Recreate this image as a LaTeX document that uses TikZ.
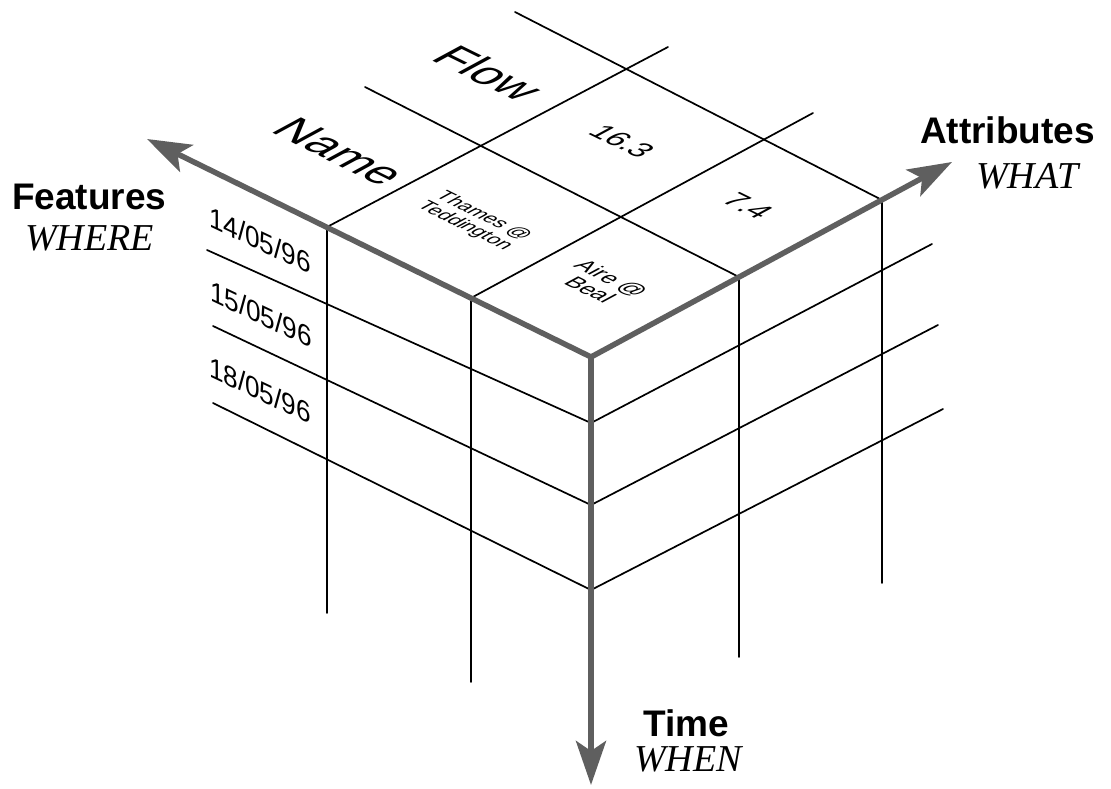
\documentclass[tikz,border=0pt]{standalone}
\usepackage{fontspec}
\setmainfont{Liberation Sans}
\newfontfamily\tnr{Liberation Serif}
\usetikzlibrary{arrows.meta}
\definecolor{axisgray}{RGB}{95,95,95}
\begin{document}
\begin{tikzpicture}[x=1pt,y=-1pt,
  gridline/.style={line width=1.7pt,line cap=round},
  axisarrow/.style={line width=5.5pt,draw=axisgray,line join=round,-{Stealth[length=44pt,width=30pt,inset=10pt]}},
  topface/.style={cm={0.897,-0.442,0.880,0.476,(0,0)}},
  leftface/.style={cm={0.903,-0.430,0,1,(0,0)}},
  facetext/.style={transform shape,inner sep=0pt,align=center},
  axislabel/.style={font={\fontsize{37}{40}\selectfont\bfseries},anchor=base west,inner sep=0pt},
  axissub/.style={font={\fontsize{38}{40}\selectfont\tnr\itshape},anchor=base west,inner sep=0pt},
  hdr/.style={font={\fontsize{47}{50}\selectfont}},
  val/.style={font={\fontsize{30}{32}\selectfont}},
  nm/.style={font={\fontsize{20}{21}\selectfont}},
  nmbig/.style={font={\fontsize{23}{24}\selectfont}},
  dt/.style={font={\fontsize{29}{32}\selectfont}}
]
\fill[white] (0,0) rectangle (1111,789);
\useasboundingbox (0,0) rectangle (1111,789);

% key points
\coordinate (O) at (591,357);
\coordinate (Ftip) at (147,139);
\coordinate (Atip) at (952,162);
\coordinate (Ttip) at (591,785);
\coordinate (A1) at (471,298);
\coordinate (A2) at (327,227);
\coordinate (B1) at (739,277);
\coordinate (B2) at (882,200);
% top face line ends
\coordinate (A1e) at (813,113);
\coordinate (A2e) at (668,47);
\coordinate (B1e) at (365,87);
\coordinate (B2e) at (515,12);
% vertical line ends
\coordinate (A2b) at (327,613);
\coordinate (A1b) at (471,682);
\coordinate (B1b) at (739,657);
\coordinate (B2b) at (882,583);
% time levels on the corner column
\coordinate (T1) at (591,423);
\coordinate (T2) at (591,505);
\coordinate (T3) at (591,590);
% left face line starts
\coordinate (L1) at (207,250);
\coordinate (L2) at (213,326);
\coordinate (L3) at (213,403);
% right face line ends
\coordinate (R1) at (932,244);
\coordinate (R2) at (938,325);
\coordinate (R3) at (943,409);

% grid
\draw[gridline] (A1) -- (A1e);
\draw[gridline] (A2) -- (A2e);
\draw[gridline] (B1) -- (B1e);
\draw[gridline] (B2) -- (B2e);
\draw[gridline] (A2) -- (A2b);
\draw[gridline] (A1) -- (A1b);
\draw[gridline] (B1) -- (B1b);
\draw[gridline] (B2) -- (B2b);
\draw[gridline] (L1) -- (T1) -- (R1);
\draw[gridline] (L2) -- (T2) -- (R2);
\draw[gridline] (L3) -- (T3) -- (R3);

% axes
\draw[axisarrow] (O) -- (Ftip);
\draw[axisarrow] (O) -- (Atip);
\draw[axisarrow] (O) -- (Ttip);

% top face texts
\begin{scope}[shift={(340,152)},topface]
  \node[facetext,hdr] (name) at (0,0) {Name};
\end{scope}
\begin{scope}[shift={(489,73)},topface]
  \node[facetext,hdr] (flow) at (0,0) {Flow};
\end{scope}
\begin{scope}[shift={(474,221)},topface]
  \node[facetext,nm] (thames) at (0,0) {Thames @\\Teddington};
\end{scope}
\begin{scope}[shift={(601,284)},topface]
  \node[facetext,nmbig] (aire) at (0,0) {Aire @\\Beal};
\end{scope}
\begin{scope}[shift={(622,141)},topface]
  \node[facetext,val] (v163) at (0,0) {16.3};
\end{scope}
\begin{scope}[shift={(748,206)},topface]
  \node[facetext,val] (v74) at (0,0) {7.4};
\end{scope}

% left face dates
\begin{scope}[shift={(260,240)},leftface]
  \node[facetext,dt] (d1) at (0,0) {14/05/96};
\end{scope}
\begin{scope}[shift={(261,314)},leftface]
  \node[facetext,dt] (d2) at (0,0) {15/05/96};
\end{scope}
\begin{scope}[shift={(260,390)},leftface]
  \node[facetext,dt] (d3) at (0,0) {18/05/96};
\end{scope}

% axis labels
\node[axislabel] (feat) at (12,209) {Features};
\node[axissub] (where) at (25,250) {WHERE};
\node[axislabel] (attr) at (920,143) {Attributes};
\node[axissub] (what) at (976,188) {WHAT};
\node[axislabel] (time) at (643,736) {Time};
\node[axissub] (when) at (634,771) {WHEN};
\end{tikzpicture}
\end{document}
